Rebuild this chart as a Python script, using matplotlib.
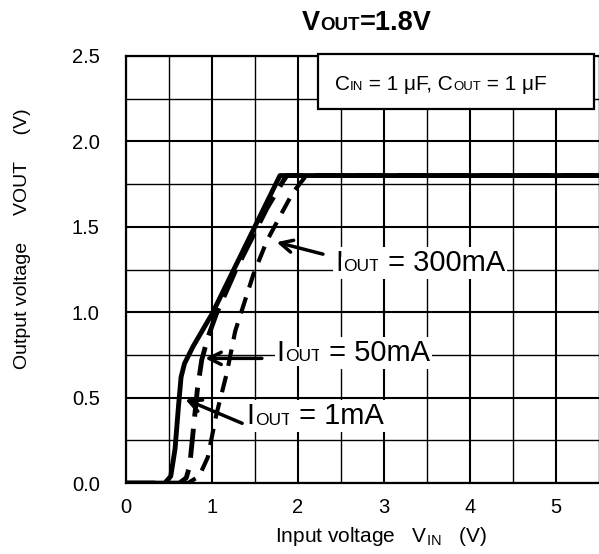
import matplotlib.pyplot as plt
import numpy as np
from matplotlib.ticker import MultipleLocator
from matplotlib.patches import Rectangle

plt.rcParams['font.family'] = ['Liberation Sans', 'DejaVu Sans']
plt.rcParams['mathtext.fontset'] = 'custom'
plt.rcParams['mathtext.rm'] = 'Liberation Sans'
plt.rcParams['mathtext.it'] = 'Liberation Sans'

# Iout = 1mA (solid)
x_1ma = [0, 0.45, 0.52, 0.57, 0.61, 0.64, 0.68, 0.78, 1.0, 1.79, 5.5]
y_1ma = [0, 0, 0.04, 0.2, 0.45, 0.62, 0.70, 0.80, 0.99, 1.80, 1.80]
# Iout = 50mA (long dash)
x_50ma = [0, 0.62, 0.70, 0.74, 0.78, 0.83, 0.88, 0.95, 1.05, 1.27, 1.64, 1.83, 1.87, 5.5]
y_50ma = [0, 0, 0.03, 0.10, 0.30, 0.55, 0.72, 0.85, 0.99, 1.24, 1.61, 1.77, 1.80, 1.80]
# Iout = 300mA (short dash)
x_300ma = [0, 0.72, 0.85, 0.95, 1.05, 1.17, 1.27, 1.48, 1.64, 1.81, 1.94, 2.08, 2.12, 5.5]
y_300ma = [0, 0, 0.04, 0.15, 0.40, 0.64, 0.89, 1.22, 1.42, 1.58, 1.70, 1.79, 1.80, 1.80]

ytick_labels = ['0.0', '0.5', '1.0', '1.5', '2.0', '2.5']


def rich_text(ax, x, y, parts, transform, weight='normal', bbox=None):
    # parts: (text, size) pieces written one after the other on the same baseline
    s0, f0 = parts[0]
    prev = ax.text(x, y, s0, fontsize=f0, fontweight=weight, va='baseline',
                   transform=transform, bbox=bbox, zorder=5)
    prev_f = f0
    for s, f in parts[1:]:
        # bbox bottom sits at the descent, so correct for the size change
        dy = 0.21 * (prev_f - f)
        prev = ax.annotate(s, xy=(1, 0), xycoords=prev, xytext=(0, dy),
                           textcoords='offset points', fontsize=f, fontweight=weight,
                           va='bottom', ha='left', bbox=bbox, zorder=5)
        prev_f = f
    return prev


fig = plt.figure(figsize=(5.99, 5.54), dpi=100)
ax = fig.add_axes([0.2104, 0.128, 0.7896, 0.771])

ax.set_xlim(0, 5.5)
ax.set_ylim(0, 2.5)
ax.xaxis.set_major_locator(MultipleLocator(1))
ax.xaxis.set_minor_locator(MultipleLocator(0.5))
ax.yaxis.set_minor_locator(MultipleLocator(0.25))
ax.set_yticks(np.arange(0, 2.51, 0.5))
ax.set_yticklabels(ytick_labels)
ax.tick_params(which='both', length=0, labelsize=14.5)
ax.tick_params(axis='x', pad=11)
ax.tick_params(axis='y', pad=19)
ax.grid(which='major', color='black', linewidth=1.5)
ax.grid(which='minor', color='black', linewidth=1.0)
ax.set_axisbelow(True)
ax.spines['right'].set_visible(False)
for s in ['left', 'top', 'bottom']:
    ax.spines[s].set_linewidth(1.6)

ax.plot(x_300ma, y_300ma, color='black', linewidth=3, dashes=(4, 2.5))
ax.plot(x_50ma, y_50ma, color='black', linewidth=3.5, dashes=(6, 2.5))
ax.plot(x_1ma, y_1ma, color='black', linewidth=3.5, solid_joinstyle='round')

wbox = dict(facecolor='white', edgecolor='none', pad=1.5)
arrow = dict(arrowstyle='->', color='black', lw=2.5, mutation_scale=22, shrinkA=0, shrinkB=0)
ax.annotate('', xy=(1.75, 1.41), xytext=(2.29, 1.34), arrowprops=arrow)
rich_text(ax, 2.43, 1.244, [('I', 21), ('OUT', 12.5), (' = 300mA', 21)], ax.transData, bbox=wbox)
ax.annotate('', xy=(0.92, 0.73), xytext=(1.58, 0.73), arrowprops=arrow)
rich_text(ax, 1.752, 0.716, [('I', 21), ('OUT', 12.5), (' = 50mA', 21)], ax.transData, bbox=wbox)
ax.annotate('', xy=(0.69, 0.49), xytext=(1.35, 0.35), arrowprops=arrow)
rich_text(ax, 1.403, 0.344, [('I', 21), ('OUT', 12.5), (' = 1mA', 21)], ax.transData, bbox=wbox)

# capacitor condition box
ax.add_patch(Rectangle((0.406, 0.876), 0.583, 0.129, transform=ax.transAxes,
                       facecolor='white', edgecolor='black', linewidth=1.6,
                       clip_on=False, zorder=4))
rich_text(ax, 0.442, 0.920, [('C', 15), ('IN', 9.5), (' = 1 \u03bcF, C', 15), ('OUT', 9.5),
                             (' = 1 \u03bcF', 15)], ax.transAxes)

# title
rich_text(ax, 302 / 599, (554 - 30) / 554, [('V', 19.5), ('OUT', 13.5), ('=1.8V', 19.5)],
          fig.transFigure, weight='bold')

fig.text(381.5 / 599, (554 - 541.7) / 554, r'Input voltage   V$_{\mathrm{IN}}$   (V)',
         fontsize=15, ha='center', va='baseline')
fig.text(23 / 599, (554 - 238.5) / 554, 'Output voltage     VOUT     (V)', fontsize=14,
         rotation=90, ha='center', va='center')

fig.savefig('out.png', dpi=100)
